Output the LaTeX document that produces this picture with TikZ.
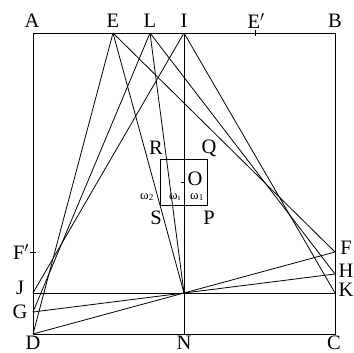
\documentclass[tikz,border=0pt]{standalone}
\usepackage{fontspec}
\setmainfont{Liberation Serif}

\begin{document}
\begin{tikzpicture}[x=1pt,y=-1pt,line width=0.8pt,
    lbl/.style={font=\fontsize{20.5}{20.5}\selectfont,inner sep=0pt},
    angl/.style={font=\fontsize{13}{13}\selectfont,inner sep=0pt}]
    \useasboundingbox (0,0) rectangle (354,353);

    % points of the square and on its sides
    \coordinate (A) at (33,33);   \coordinate (B) at (335,33);
    \coordinate (C) at (335,334); \coordinate (D) at (33,334);
    \coordinate (E) at (113,33);  \coordinate (L) at (150,33);
    \coordinate (I) at (184,33);  \coordinate (Ep) at (255,33);
    \coordinate (N) at (184,334); \coordinate (M) at (184,293);
    \coordinate (J) at (33,293);  \coordinate (K) at (335,293);
    \coordinate (G) at (33,312);  \coordinate (H) at (335,274);
    \coordinate (F) at (335,252); \coordinate (Fp) at (33,252);
    \coordinate (O) at (184,182);

    \draw (A) rectangle (C);
    \draw (I) -- (N);
    \draw (J) -- (K);
    \foreach \p/\q in {E/D,L/G,I/J,E/F,L/H,I/K,E/M,L/M,D/F,G/H}
      \draw (\p) -- (\q);

    % small square round O
    \draw (160.5,159.5) rectangle (207.5,205.5);

    % ticks
    \draw (Ep) ++(0,-3) -- ++(0,6);
    \draw (Fp) ++(-3,0) -- ++(6,0);
    \draw (O) -- ++(-3,0);

    \foreach \n/\x/\y/\t in {A/32/21/A,E/113/21/E,L/150/21/L,I/184/21/I,
        Ep/256/21/E$'$,B/335/21/B,D/33/343/D,N/184/343/N,C/334/343/C,
        J/20/288/J,G/20/312/G,Fp/21/252/F$'$,F/346/248/F,H/346/271/H,
        K/346/290/K,R/156/148/R,Q/209/148/Q,S/156/218/S,P/209/218/P,
        O/195/179/O}
      \node[lbl] (l\n) at (\x,\y) {\t};

    \node[angl] (w2) at (147,197) {ω\textsubscript{2}};
    \node[angl] (wi) at (175,197) {ω\textsubscript{ı}};
    \node[angl] (w1) at (197,197) {ω\textsubscript{1}};
\end{tikzpicture}
\end{document}
